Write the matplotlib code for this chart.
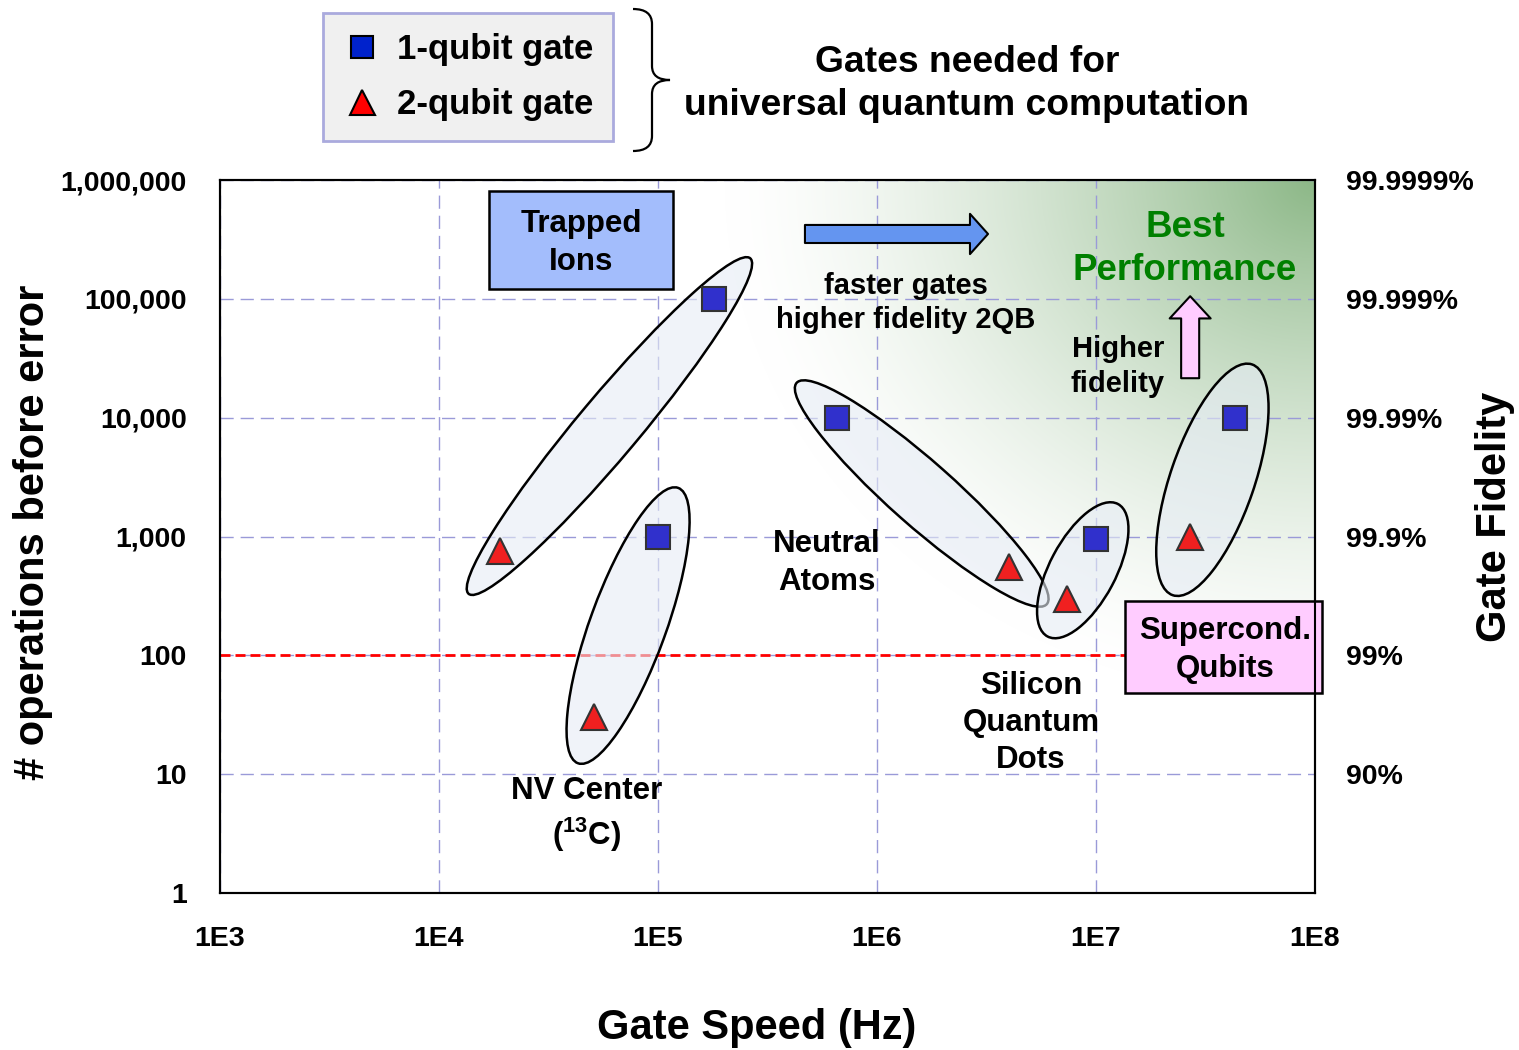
import numpy as np
import matplotlib
matplotlib.use('Agg')
import matplotlib.pyplot as plt
from matplotlib.patches import Ellipse, Rectangle, PathPatch
from matplotlib.path import Path
from matplotlib.lines import Line2D
from matplotlib.transforms import ScaledTranslation, Affine2D

plt.rcParams['font.family'] = ['Liberation Sans', 'DejaVu Sans']
plt.rcParams['font.weight'] = 'bold'
plt.rcParams['mathtext.fontset'] = 'custom'
plt.rcParams['mathtext.rm'] = 'Liberation Sans:bold'
plt.rcParams['mathtext.it'] = 'Liberation Sans:bold'
plt.rcParams['mathtext.bf'] = 'Liberation Sans:bold'
plt.rcParams['mathtext.default'] = 'rm'

# data
platforms = ['Trapped Ions', 'NV Center', 'Neutral Atoms', 'Silicon Quantum Dots', 'Supercond. Qubits']
speed_1q = [1.8e5, 1.0e5, 6.6e5, 1.0e7, 4.3e7]
ops_1q = [1.0e5, 1.0e3, 1.0e4, 950, 1.0e4]
speed_2q = [1.9e4, 5.1e4, 4.0e6, 7.4e6, 2.7e7]
ops_2q = [750, 30, 550, 300, 1000]

x_ticks = [1e3, 1e4, 1e5, 1e6, 1e7, 1e8]
x_ticklabels = ['1E3', '1E4', '1E5', '1E6', '1E7', '1E8']
y_ticks = [1, 10, 100, 1e3, 1e4, 1e5, 1e6]
y_ticklabels = ['1', '10', '100', '1,000', '10,000', '100,000', '1,000,000']
fid_ticks = [10, 100, 1e3, 1e4, 1e5, 1e6]
fid_ticklabels = ['90%', '99%', '99.9%', '99.99%', '99.999%', '99.9999%']

# grouping ellipses: centre (data), length / width (px), angle (deg)
ell_cx = [6.0e4, 7.3e4, 1.6e6, 8.7e6, 3.4e7]
ell_cy = [8.5e3, 178, 2.3e3, 520, 3.0e3]
ell_len = [438, 293, 334, 150, 244]
ell_wid = [61, 76, 64, 66, 84]
ell_ang = [50, 70, -41.5, 62, 71]

W, H = 1519, 1050
LS = 1.31
fig = plt.figure(figsize=(W / 100, H / 100), dpi=100)
ax = fig.add_axes([220 / W, 1 - 893 / H, 1095 / W, 713 / H])
ax.set_xscale('log')
ax.set_yscale('log')

# green "best performance" gradient in the upper right
ny, nx = 713, 1095
yy, xx = np.mgrid[0:ny, 0:nx]
d = np.sqrt(((nx - 1 - xx) / 590.0) ** 2 + ((ny - 1 - yy) / 520.0) ** 2)
w = np.clip(1 - d, 0, 1) ** 1.5
green = np.array([0.55, 0.72, 0.53])
img = 1 - w[..., None] * (1 - green)
ax.imshow(img, extent=(0, 1, 0, 1), transform=ax.transAxes, origin='lower',
          aspect='auto', zorder=0, interpolation='bilinear')

ax.set_xlim(1e3, 1e8)
ax.set_ylim(1, 1e6)
ax.set_xticks(x_ticks)
ax.set_xticklabels(x_ticklabels)
ax.set_yticks(y_ticks)
ax.set_yticklabels(y_ticklabels)
ax.minorticks_off()
ax.tick_params(axis='x', length=0, labelsize=20.5, pad=24)
ax.tick_params(axis='y', length=0, labelsize=20.5, pad=24)
ax.set_axisbelow(True)
ax.grid(True, color='#9a9ad8', linestyle=(0, (9.5, 5)), linewidth=1.0)
for s in ax.spines.values():
    s.set_linewidth(1.5)

ax.axhline(100, color='#ff0000', lw=2, linestyle=(0, (3.6, 1.8)), zorder=1.5)

for cx, cy, L, Wd, a in zip(ell_cx, ell_cy, ell_len, ell_wid, ell_ang):
    tr = fig.dpi_scale_trans + ScaledTranslation(cx, cy, ax.transData)
    e = Ellipse((0, 0), L / 100, Wd / 100, angle=a, transform=tr,
                facecolor=(0.90, 0.925, 0.96, 0.6), edgecolor='black', lw=1.8, zorder=2)
    ax.add_patch(e)

ax.plot(speed_1q, ops_1q, 's', ms=17, mfc='#3030cc', mec='#333333', mew=1.5,
        linestyle='none', zorder=4)
ax.plot(speed_2q, ops_2q, '^', ms=19, mfc='#f02020', mec='#333333', mew=1.5,
        linestyle='none', zorder=4)

# labelled boxes
ax.add_patch(Rectangle((0.2457, 0.8471), 0.168, 0.1374, transform=ax.transAxes,
                       facecolor='#a3bdfc', edgecolor='black', lw=1.8, zorder=5, clip_on=False))
ax.text(0.3297, 0.9116, 'Trapped\nIons', transform=ax.transAxes, ha='center', va='center',
        fontsize=22.5, linespacing=LS, zorder=6)
ax.add_patch(Rectangle((0.8265, 0.2805), 0.1799, 0.129, transform=ax.transAxes,
                       facecolor='#ffccff', edgecolor='black', lw=1.8, zorder=5, clip_on=False))
ax.text(0.9178, 0.3408, 'Supercond.\nQubits', transform=ax.transAxes, ha='center', va='center',
        fontsize=22.5, linespacing=LS, zorder=6)

ax.text(0.5543, 0.4628, 'Neutral\nAtoms', transform=ax.transAxes, ha='center', va='center',
        fontsize=22.5, linespacing=LS, zorder=6)
ax.text(0.7406, 0.2384, 'Silicon\nQuantum\nDots', transform=ax.transAxes, ha='center', va='center',
        fontsize=22.5, linespacing=LS, zorder=6)
ax.text(0.3352, 0.1094, 'NV Center\n($^{13}$C)', transform=ax.transAxes, ha='center', va='center',
        fontsize=22.5, linespacing=LS, zorder=6)
ax.text(0.8813, 0.9032, 'Best\nPerformance', transform=ax.transAxes, ha='center', va='center',
        fontsize=26.5, color='#008000', linespacing=LS, zorder=6)
ax.text(0.6265, 0.8275, 'faster gates\nhigher fidelity 2QB', transform=ax.transAxes, ha='center',
        va='center', fontsize=21, linespacing=LS, zorder=6)
ax.text(0.8201, 0.738, 'Higher\nfidelity', transform=ax.transAxes, ha='center', va='center',
        fontsize=21, linespacing=LS, zorder=6)

# arrows
ax.annotate('', xy=(0.7014, 0.9243), xytext=(0.5342, 0.9243), xycoords='axes fraction',
            arrowprops=dict(arrowstyle='simple,head_length=13,head_width=29,tail_width=13',
                            mutation_scale=1, fc='#6495f0', ec='black', lw=1.5,
                            shrinkA=0, shrinkB=0), zorder=6)
ax.annotate('', xy=(0.886, 0.837), xytext=(0.886, 0.722), xycoords='axes fraction',
            arrowprops=dict(arrowstyle='simple,head_length=16,head_width=29.5,tail_width=13',
                            mutation_scale=1, fc='#ffccff', ec='black', lw=1.5,
                            shrinkA=0, shrinkB=0), zorder=6)

# right-hand fidelity axis
ax2 = ax.twinx()
ax2.set_yscale('log')
ax2.set_ylim(1, 1e6)
ax2.set_yticks(fid_ticks)
ax2.set_yticklabels(fid_ticklabels)
ax2.minorticks_off()
ax2.tick_params(axis='y', length=0, labelsize=20.5, pad=22)
for s in ax2.spines.values():
    s.set_linewidth(1.5)

fig.text(757 / W, 1 - 1028 / H, 'Gate Speed (Hz)', ha='center', va='center', fontsize=30)
fig.text(33 / W, 1 - 532 / H, '# operations before error', ha='center', va='center',
         fontsize=30, rotation=90)
fig.text(1495 / W, 1 - 517 / H, 'Gate Fidelity', ha='center', va='center',
         fontsize=30, rotation=90)

# legend and brace above the plot
handles = [Line2D([], [], marker='s', ms=16, mfc='#0022cc', mec='black', mew=1.5, ls='none'),
           Line2D([], [], marker='^', ms=18, mfc='#ff0000', mec='black', mew=1.5, ls='none')]
leg = fig.legend(handles, ['1-qubit gate', '2-qubit gate'], loc='upper left',
                 bbox_to_anchor=(323 / W, 1 - 13 / H), frameon=True, fancybox=False,
                 facecolor='#f0f0f0', edgecolor='#aaaadd', framealpha=1, fontsize=25,
                 handlelength=1.1, handletextpad=0.46, labelspacing=0.65, borderpad=0.57,
                 borderaxespad=0)
leg.get_frame().set_linewidth(2)

px = Affine2D().scale(1 / W, -1 / H).translate(0, 1) + fig.transFigure
brace = Path([(633, 9), (652, 9), (652, 24), (652, 66), (652, 80), (670, 80),
              (652, 80), (652, 94), (652, 136), (652, 151), (633, 151)],
             [Path.MOVETO, Path.CURVE3, Path.CURVE3, Path.LINETO, Path.CURVE3, Path.CURVE3,
              Path.CURVE3, Path.CURVE3, Path.LINETO, Path.CURVE3, Path.CURVE3])
fig.patches.append(PathPatch(brace, transform=px, fill=False, lw=1.6, ec='black'))

fig.text(967 / W, 1 - 84 / H, 'Gates needed for\nuniversal quantum computation',
         ha='center', va='center', fontsize=26.8, linespacing=LS)

fig.savefig('out.png', dpi=100)
